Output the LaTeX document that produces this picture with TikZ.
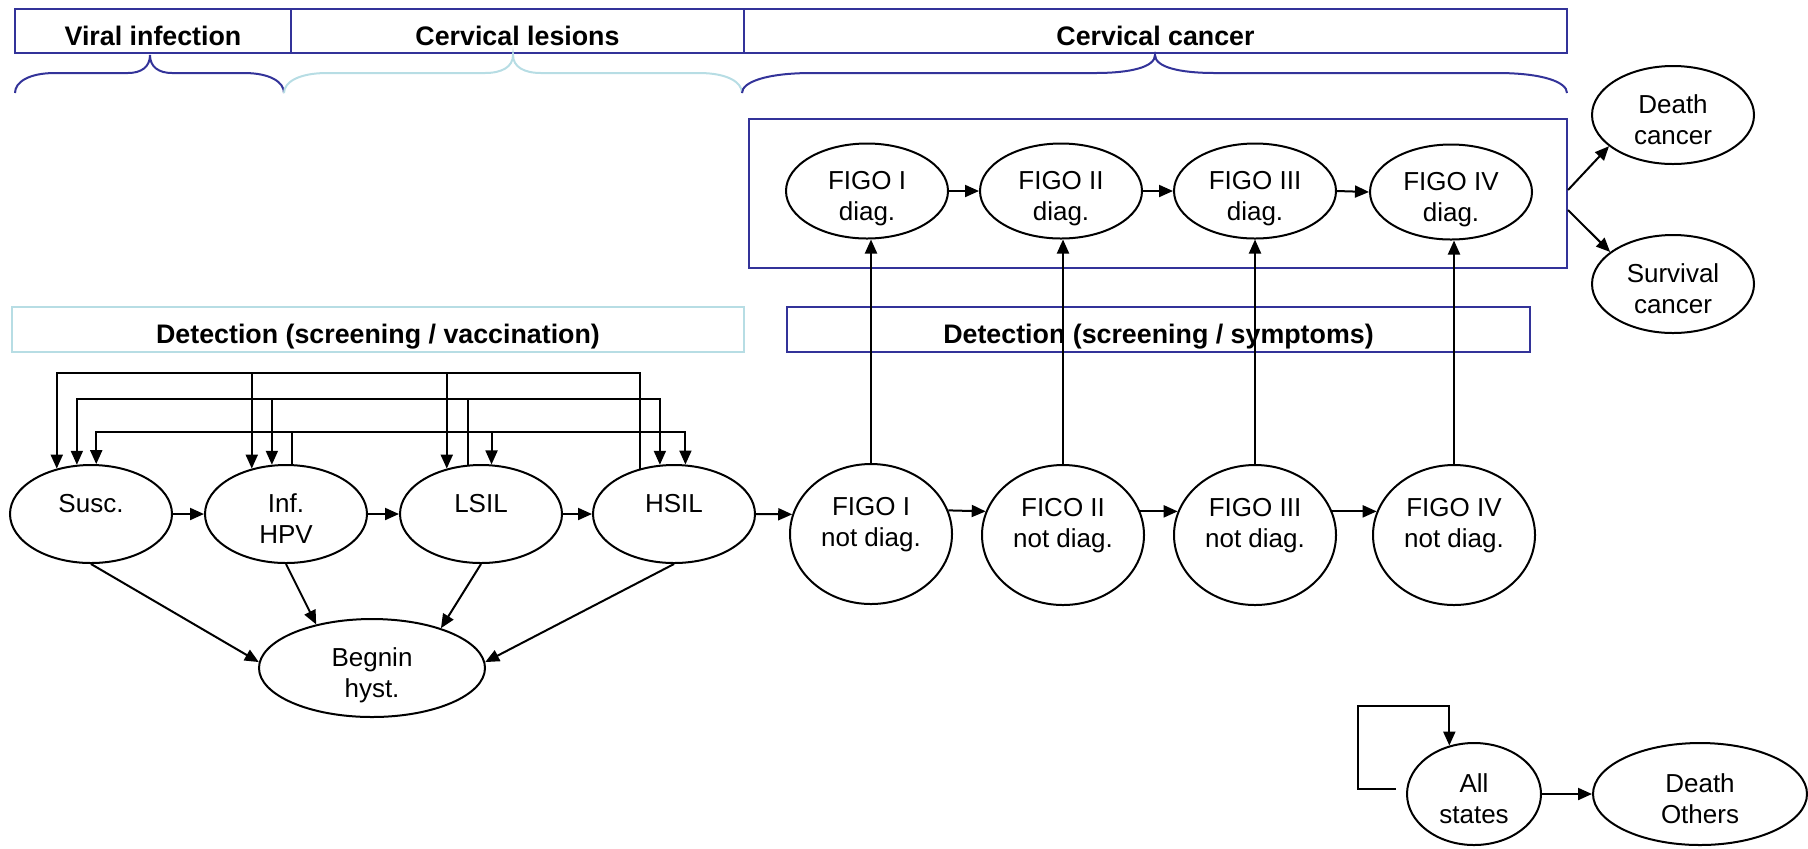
\documentclass[tikz,border=0pt]{standalone}
\usepackage{fontspec}
\setmainfont{Liberation Sans}
\usetikzlibrary{arrows.meta,shapes.geometric}
\definecolor{dblue}{RGB}{51,51,153}
\definecolor{lcyan}{RGB}{183,221,228}
\newcommand\twol[2]{\begin{tabular}[t]{@{}c@{}}#1\\#2\end{tabular}}
\newcommand\topbrace[6]{\draw[#1] (#2,93) .. controls (#2,82) and ({#2+0.35*#5},73) .. ({#2+#5},73) -- ({#4-#6},73) .. controls ({#4-0.4*#6},73) and (#4,67) .. (#4,55) .. controls (#4,67) and ({#4+0.4*#6},73) .. ({#4+#6},73) -- ({#3-#5},73) .. controls ({#3-0.35*#5},73) and (#3,82) .. (#3,93);}
\begin{document}
\begin{tikzpicture}[x=0.5pt,y=-0.5pt,
 arr/.style={line width=1pt, -{Triangle[length=7pt,width=6pt]}},
 st/.style={ellipse, draw, line width=1pt, inner sep=0pt, text height=5pt, text depth=7pt,
   font=\fontsize{13}{15.5}\selectfont, minimum width=81pt, minimum height=49pt},
 tall/.style={st, minimum height=70pt, text depth=24pt},
 hdr/.style={rectangle, draw=dblue, line width=1pt, inner sep=0pt, minimum height=22pt,
   text height=14pt, text depth=0pt, font=\bfseries\fontsize{13.4}{16}\selectfont},
 detbox/.style={hdr, minimum height=22.5pt, text height=13.5pt},
 cbox/.style={rectangle, draw=dblue, line width=1pt, inner sep=0pt}]
\useasboundingbox (0,0) rectangle (1808,848);

% header boxes
\node[hdr, minimum width=138pt] (h1) at (153,31) {Viral infection};
\node[hdr, minimum width=226.5pt] (h2) at (517.5,31) {Cervical lesions};
\node[hdr, minimum width=411.5pt] (h3) at (1155.5,31) {Cervical cancer};

% braces
\topbrace{dblue,line width=1pt}{15}{284}{150}{40}{22}
\topbrace{lcyan,line width=1pt}{284}{742}{513}{43}{28}
\topbrace{dblue,line width=1pt}{742}{1567}{1155}{70}{60}

% boxes
\node[cbox, minimum width=409pt, minimum height=74.5pt] (cancer) at (1158,193.5) {};
\node[detbox, draw=lcyan, minimum width=366pt] (vacc) at (378,329.5) {Detection (screening / vaccination)};
\node[detbox, minimum width=371.5pt] (symp) at (1158.5,329.5) {Detection (screening / symptoms)};

% level coordinates
\coordinate (L1) at (0,373);
\coordinate (L2) at (0,399);
\coordinate (L3) at (0,432);
\coordinate (Ly1) at (0,190);
\coordinate (Ly2) at (0,210);
\coordinate (Ltop) at (0,706);

% diagnosed states
\node[st, minimum height=47.5pt] (d1) at (867,191) {\twol{FIGO I}{diag.}};
\node[st, minimum height=47.5pt] (d2) at (1061,191) {\twol{FIGO II}{diag.}};
\node[st, minimum height=47.5pt] (d3) at (1255,191) {\twol{FIGO III}{diag.}};
\node[st, minimum height=47.5pt] (d4) at (1451,192) {\twol{FIGO IV}{diag.}};
\node[st] (dc) at (1673,115) {\twol{Death}{cancer}};
\node[st] (sc) at (1673,284) {\twol{Survival}{cancer}};

% natural history
\node[st] (susc) at (91,514) {Susc.};
\node[st] (inf) at (286,514) {\twol{Inf.}{HPV}};
\node[st] (lsil) at (481,514) {LSIL};
\node[st] (hsil) at (674,514) {HSIL};
\node[tall] (nd1) at (871,534) {\twol{FIGO I}{not diag.}};
\node[tall] (nd2) at (1063,535) {\twol{FICO II}{not diag.}};
\node[tall] (nd3) at (1255,535) {\twol{FIGO III}{not diag.}};
\node[tall] (nd4) at (1454,535) {\twol{FIGO IV}{not diag.}};
\node[st, minimum width=113pt] (begnin) at (372,668) {\twol{Begnin}{hyst.}};
\node[st, minimum width=67pt, minimum height=51pt] (all) at (1474,794) {\twol{All}{states}};
\node[st, minimum width=107pt, minimum height=51pt] (dothers) at (1700,794) {\twol{Death}{Others}};

% horizontal progressions
\draw[arr] (susc.east) -- (inf.west);
\draw[arr] (inf.east) -- (lsil.west);
\draw[arr] (lsil.east) -- (hsil.west);
\draw[arr] (hsil.east) -- (nd1.166);
\draw[arr] (nd1.17) -- (nd2.163);
\draw[arr] (nd2.17) -- (nd3.163);
\draw[arr] (nd3.17) -- (nd4.163);
\draw[arr] (d1.east) -- (d2.west);
\draw[arr] (d2.east) -- (d3.west);
\draw[arr] (d3.east) -- (d4.west);

% detection
\draw[arr] (nd1.north) -- (nd1.north |- d1.south);
\draw[arr] (nd2.north) -- (nd2.north |- d2.south);
\draw[arr] (nd3.north) -- (nd3.north |- d3.south);
\draw[arr] (nd4.north) -- (nd4.north |- d4.south);

% cancer outcomes
\draw[arr] (cancer.east |- Ly1) -- (dc.206);
\draw[arr] (cancer.east |- Ly2) -- (sc.153);

% benign hysterectomy
\draw[arr] (susc.south) -- (begnin.177);
\draw[arr] (inf.south) -- (begnin.142);
\draw[arr] (lsil.south) -- (begnin.30);
\draw[arr] (hsil.south) -- (begnin.3);

% regression lines
\draw[arr] (hsil.127) |- (susc.127 |- L1) -- (susc.127);
\draw[arr] (inf.127 |- L1) -- (inf.127);
\draw[arr] (lsil.127 |- L1) -- (lsil.127);
\draw[arr] (lsil.105) |- (susc.106 |- L2) -- (susc.106);
\draw[arr] (lsil.105 |- L2) -| (hsil.106);
\draw[arr] (inf.106 |- L2) -- (inf.106);
\draw[arr] (inf.83) |- (susc.84 |- L3) -- (susc.84);
\draw[arr] (inf.83 |- L3) -| (hsil.77);
\draw[arr] (lsil.78 |- L3) -- (lsil.78);

% other death
\draw[arr] (all.east) -- (dothers.west);
\draw[arr] ([xshift=-5pt,yshift=2.5pt]all.west) -- ++(-38,0) |- (all.117 |- Ltop) -- (all.117);
\end{tikzpicture}
\end{document}
